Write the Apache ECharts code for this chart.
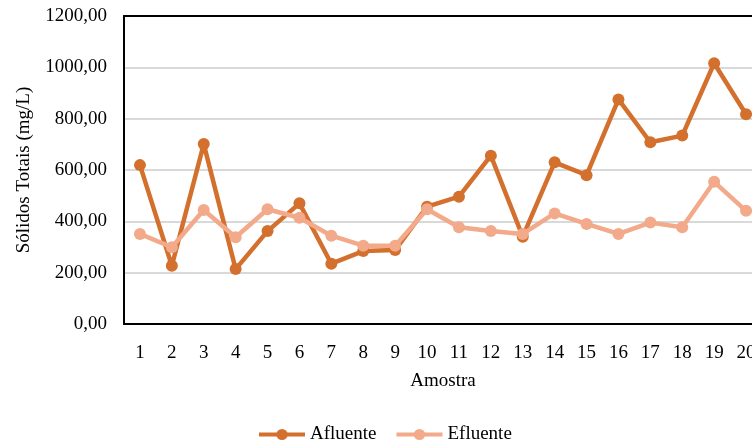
<!DOCTYPE html>
<html>
<head>
<meta charset="utf-8">
<script src="https://cdn.jsdelivr.net/npm/echarts@6/dist/echarts.min.js"></script>
<style>
  html, body { margin: 0; padding: 0; background: #fff; }
  #chart { width: 752px; height: 447px; }
</style>
</head>
<body>
<div id="chart"></div>
<script>
// Amostras 1..20
const amostras = ['1','2','3','4','5','6','7','8','9','10','11','12','13','14','15','16','17','18','19','20'];
// Sólidos totais (mg/L)
const afluente = [619, 227, 701, 214, 362, 470, 235, 284, 288, 457, 496, 656, 340, 630, 580, 875, 708, 734, 1016, 817];
const efluente = [351, 299, 444, 338, 447, 414, 344, 305, 305, 447, 377, 362, 351, 431, 390, 351, 395, 377, 554, 441];

const corAfluente = '#D4702E';
const corEfluente = '#F2AA8A';
const fonte = '"Liberation Serif", "Times New Roman", serif';

const chart = echarts.init(document.getElementById('chart'));
chart.setOption({
  animation: false,
  textStyle: { fontFamily: fonte },
  // the plot area runs a little past the right edge of the canvas
  grid: {
    left: 124, top: 16, width: 638, height: 308,
    outerBoundsMode: 'none',
    containLabel: false
  },
  legend: {
    top: 420, left: 252,
    itemWidth: 46, itemHeight: 14, itemGap: 18,
    textStyle: { fontFamily: fonte, fontSize: 19, color: '#000' },
    lineStyle: { width: 4 },
    data: ['Afluente', 'Efluente']
  },
  xAxis: [
    {
      type: 'category',
      data: amostras,
      name: 'Amostra',
      nameLocation: 'middle',
      nameGap: 48,
      nameTextStyle: { fontFamily: fonte, fontSize: 19, color: '#000' },
      axisLine: { lineStyle: { color: '#000', width: 2 } },
      axisTick: { show: false },
      axisLabel: { fontFamily: fonte, fontSize: 19, color: '#000', margin: 20 },
      z: 5
    },
    {
      // frame line along the top of the plot
      type: 'category',
      position: 'top',
      data: amostras,
      axisLine: { lineStyle: { color: '#000', width: 2 } },
      axisTick: { show: false },
      axisLabel: { show: false },
      splitLine: { show: false },
      z: 5
    }
  ],
  yAxis: {
    type: 'value',
    min: 0, max: 1200, interval: 200,
    name: 'Sólidos Totais (mg/L)',
    nameLocation: 'middle',
    nameGap: 90,
    nameTextStyle: { fontFamily: fonte, fontSize: 19, color: '#000' },
    axisLine: { show: true, lineStyle: { color: '#000', width: 2 } },
    axisTick: { show: false },
    axisLabel: {
      fontFamily: fonte, fontSize: 19, color: '#000', margin: 17,
      formatter: v => v.toFixed(2).replace('.', ',')
    },
    splitLine: { lineStyle: { color: '#D9D9D9', width: 2 } }
  },
  series: [
    {
      name: 'Afluente', type: 'line', data: afluente,
      symbol: 'circle', symbolSize: 12,
      lineStyle: { color: corAfluente, width: 4.5 },
      itemStyle: { color: corAfluente }
    },
    {
      name: 'Efluente', type: 'line', data: efluente,
      symbol: 'circle', symbolSize: 12,
      lineStyle: { color: corEfluente, width: 4.5 },
      itemStyle: { color: corEfluente }
    }
  ]
});
</script>
</body>
</html>
